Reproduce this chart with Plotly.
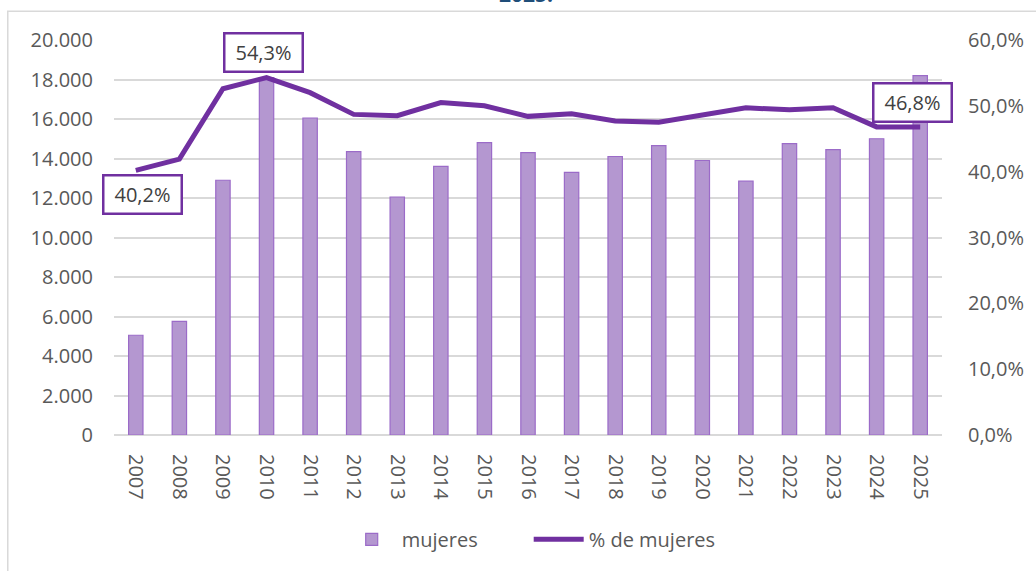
import plotly.graph_objects as go

years = [str(y) for y in range(2007, 2026)]
mujeres = [5050, 5750, 12900, 18100, 16050, 14350, 12050, 13600, 14800, 14300,
           13300, 14100, 14650, 13900, 12850, 14750, 14450, 15000, 18200]
pct_mujeres = [40.2, 41.9, 52.6, 54.3, 52.0, 48.7, 48.5, 50.5, 50.0, 48.4,
               48.8, 47.7, 47.5, 48.6, 49.7, 49.4, 49.7, 46.8, 46.8]

left_ticks = list(range(0, 20001, 2000))
left_labels = ["0" if v == 0 else f"{v // 1000}.{v % 1000:03d}" for v in left_ticks]
right_ticks = list(range(0, 61, 10))
right_labels = [f"{v},0%" for v in right_ticks]

FONT = "Open Sans"
PURPLE = "#7030A0"

fig = go.Figure()
fig.add_trace(go.Bar(
    x=years, y=mujeres, name="mujeres",
    marker=dict(color="#B497D0", line=dict(color="#9B6BC8", width=1.2)),
))
fig.add_trace(go.Scatter(
    x=years, y=pct_mujeres, name="% de mujeres", yaxis="y2", mode="lines",
    line=dict(color=PURPLE, width=5),
))

# data labels for first, max, last (x given as category index)
label_idx = [(0, 7, -24), (3, -3, 25), (18, -8, 24)]
for i, xs, ys in label_idx:
    fig.add_annotation(
        x=i, y=pct_mujeres[i], xref="x", yref="y2",
        text=f"{pct_mujeres[i]:.1f}%".replace(".", ","),
        showarrow=False, xshift=xs, yshift=ys,
        font=dict(family=FONT, size=20, color="#404040"),
        bgcolor="white", bordercolor=PURPLE, borderwidth=2.5,
        width=72, height=32, borderpad=2,
    )

# cut-off title at top
fig.add_annotation(
    text="<b>2025.</b>", xref="paper", yref="paper", x=0.497, y=1.076,
    xanchor="center", yanchor="bottom", showarrow=False,
    font=dict(family=FONT, size=21, color="#1F4E79"),
)

# outer chart border
fig.add_shape(type="rect", xref="paper", yref="paper",
              x0=-0.1283, y0=1.0729, x1=1.12, y1=-0.36,
              line=dict(color="#D9D9D9", width=1.5), fillcolor="rgba(0,0,0,0)", layer="below")

fig.update_layout(
    width=1036, height=571,
    margin=dict(l=114, r=88, t=40, b=133),
    paper_bgcolor="white", plot_bgcolor="white",
    font=dict(family=FONT, size=20, color="#595959"),
    bargap=0.67,
    showlegend=True,
    legend=dict(orientation="h", x=0.275, xanchor="left", y=-0.264, yanchor="middle",
                font=dict(family=FONT, size=20, color="#595959"), itemwidth=50,
                entrywidth=122),
    xaxis=dict(type="category", range=[-0.5, 18.5], tickangle=90, showgrid=False, showline=False,
               ticks="", tickfont=dict(size=20, color="#595959"), ticklabelstandoff=18),
    yaxis=dict(range=[0, 20000], tickvals=left_ticks, ticktext=left_labels,
               showgrid=True, gridcolor="#D9D9D9", gridwidth=1.5, zeroline=True,
               zerolinecolor="#D9D9D9", zerolinewidth=1.5, ticks="",
               ticklabelstandoff=20, tickfont=dict(size=20, color="#595959")),
    yaxis2=dict(range=[0, 60], tickvals=right_ticks, ticktext=right_labels,
                overlaying="y", side="right", showgrid=False, zeroline=False,
                ticks="", ticklabelstandoff=25, tickfont=dict(size=20, color="#595959")),
)

fig.write_html("out.html", config={"displayModeBar": False},
               post_script="document.body.style.margin='0';document.body.style.overflow='hidden';")
